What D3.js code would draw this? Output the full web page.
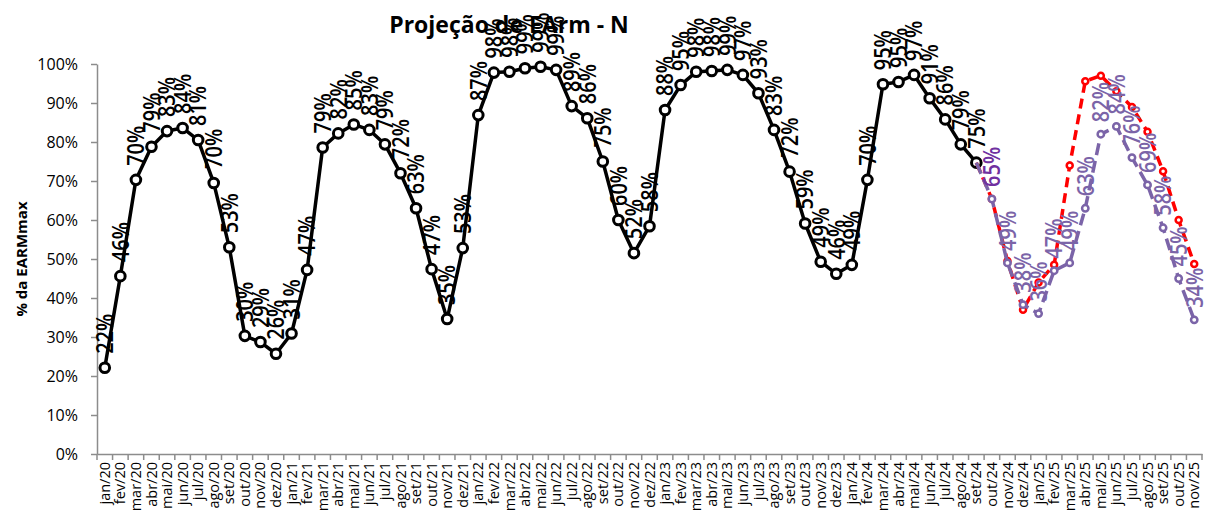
<!DOCTYPE html>
<html>
<head>
<meta charset="utf-8">
<script src="https://cdn.jsdelivr.net/npm/d3@7"></script>
<style>
  body { margin: 0; background: #fff; }
  svg { display: block; font-family: "Open Sans", "Noto Sans", sans-serif; }
</style>
</head>
<body>
<svg id="chart" width="1206" height="520"></svg>
<script>
// month labels jan/20 .. nov/25
const monthNames = ["jan", "fev", "mar", "abr", "mai", "jun", "jul", "ago", "set", "out", "nov", "dez"];
const years = ["20", "21", "22", "23", "24", "25"];
const months = [];
years.forEach(yy => monthNames.forEach(m => months.push(m + "/" + yy)));
months.splice(71); // ends at nov/25

// verified history (jan/20 .. set/24)
const histStart = "jan/20";
const histValues = [
  22.1, 45.6, 70.3, 78.8, 82.8, 83.6, 80.5, 69.5, 53.0, 30.3, 28.7, 25.7,
  30.9, 47.2, 78.6, 82.2, 84.5, 83.1, 79.4, 72.0, 63.0, 47.4, 34.6, 52.8,
  86.9, 97.8, 98.0, 98.9, 99.3, 98.5, 89.2, 86.1, 75.0, 60.0, 51.5, 58.4,
  88.2, 94.6, 98.0, 98.2, 98.5, 97.2, 92.5, 83.1, 72.4, 59.1, 49.3, 46.2,
  48.5, 70.3, 94.8, 95.4, 97.2, 91.2, 85.8, 79.4, 74.7
];

// projection (set/24 .. nov/25)
const projStart = "set/24";
const projValues = [74.7, 65.4, 49.0, 38.3, 36.0, 47.0, 49.0, 63.0, 82.0, 84.0, 76.0, 69.0, 58.0, 45.0, 34.4];

// other scenario (set/24 .. nov/25)
const altStart = "set/24";
const altValues = [74.7, 65.4, 49.5, 37.0, 44.0, 48.5, 74.0, 95.6, 97.0, 93.0, 89.0, 82.6, 72.5, 60.0, 48.7];

const yTicks = [0, 10, 20, 30, 40, 50, 60, 70, 80, 90, 100];

const svg = d3.select("#chart");
const plotLeft = 97, plotRight = 1202, plotTop = 64, plotBottom = 454;

const x = d3.scaleBand().domain(months).range([plotLeft, plotRight]).padding(0);
const y = d3.scaleLinear().domain([0, 100]).range([plotBottom, plotTop]);
const cx = m => x(m) + x.bandwidth() / 2;

function toPoints(start, vals) {
  const i0 = months.indexOf(start);
  return vals.map((v, i) => ({ m: months[i0 + i], v: v }));
}
const hist = toPoints(histStart, histValues);
const proj = toPoints(projStart, projValues);
const alt = toPoints(altStart, altValues);

const axisColor = "#8c8c8c";
const font = "'Open Sans', 'Noto Sans', sans-serif";

// y axis
const yAxis = svg.append("g")
  .attr("transform", `translate(${plotLeft},0)`)
  .call(d3.axisLeft(y).tickValues(yTicks).tickFormat(d => d + "%").tickSize(6).tickSizeOuter(0));
yAxis.select(".domain").attr("stroke", axisColor).attr("stroke-width", 1.5);
yAxis.selectAll(".tick line").attr("stroke", axisColor).attr("stroke-width", 1.5);
yAxis.selectAll(".tick text")
  .attr("font-family", font)
  .attr("font-size", 16).attr("fill", "#000").attr("x", -19);

// x axis
const xAxis = svg.append("g")
  .attr("transform", `translate(0,${plotBottom})`)
  .call(d3.axisBottom(x).tickSize(0).tickSizeOuter(0));
xAxis.select(".domain").attr("stroke", axisColor).attr("stroke-width", 1.5);
xAxis.selectAll(".tick text")
  .attr("font-family", font)
  .attr("font-size", 14.5).attr("fill", "#000")
  .attr("text-anchor", "end")
  .attr("transform", "translate(0,8) rotate(-90)")
  .attr("x", 0).attr("y", 0).attr("dy", "0.35em");
// ticks at the category boundaries
xAxis.selectAll(".bound")
  .data(d3.range(months.length + 1))
  .join("line")
  .attr("class", "bound")
  .attr("x1", i => plotLeft + i * x.bandwidth())
  .attr("x2", i => plotLeft + i * x.bandwidth())
  .attr("y1", 0).attr("y2", 6)
  .attr("stroke", axisColor).attr("stroke-width", 1.5);

const line = d3.line().x(d => cx(d.m)).y(d => y(d.v));

// black history
svg.append("path").datum(hist)
  .attr("d", line).attr("fill", "none")
  .attr("stroke", "#000").attr("stroke-width", 3.5).attr("stroke-linejoin", "round");
svg.append("g").selectAll("circle").data(hist).join("circle")
  .attr("cx", d => cx(d.m)).attr("cy", d => y(d.v)).attr("r", 4.8)
  .attr("fill", "#fff").attr("stroke", "#000").attr("stroke-width", 3);

// red scenario
svg.append("path").datum(alt)
  .attr("d", line).attr("fill", "none")
  .attr("stroke", "#ff0000").attr("stroke-width", 3.5).attr("stroke-dasharray", "10,6");
svg.append("g").selectAll("circle").data(alt.slice(1)).join("circle")
  .attr("cx", d => cx(d.m)).attr("cy", d => y(d.v)).attr("r", 3)
  .attr("fill", "#fff").attr("stroke", "#ff0000").attr("stroke-width", 2.5);

// purple projection
const purple = "#7b64a8";
svg.append("path").datum(proj)
  .attr("d", line).attr("fill", "none")
  .attr("stroke", purple).attr("stroke-width", 3.5).attr("stroke-dasharray", "12,6");
svg.append("g").selectAll("circle").data(proj.slice(1)).join("circle")
  .attr("cx", d => cx(d.m)).attr("cy", d => y(d.v)).attr("r", 3.2)
  .attr("fill", "#fff").attr("stroke", purple).attr("stroke-width", 2.5);

// data labels
svg.append("g").selectAll("text").data(hist).join("text")
  .attr("transform", d => `translate(${cx(d.m)},${y(d.v) - 14}) rotate(-90) scale(1,1.15)`)
  .attr("dy", "0.36em")
  .attr("font-family", font)
  .attr("font-size", 20).attr("font-weight", 600)
  .attr("fill", "#000")
  .text(d => Math.round(d.v) + "%");

svg.append("g").selectAll("text").data(proj.slice(1)).join("text")
  .attr("transform", d => `translate(${cx(d.m)},${y(d.v) - 12}) rotate(-90) scale(1,1.15)`)
  .attr("dy", "0.36em")
  .attr("font-family", font)
  .attr("font-size", 20).attr("font-weight", 600)
  .attr("fill", (d, i) => i === 0 ? "#7030a0" : purple)
  .text(d => Math.round(d.v) + "%");

// titles
svg.append("text")
  .attr("x", 509).attr("y", 33)
  .attr("text-anchor", "middle")
  .attr("font-family", font)
  .attr("font-size", 23).attr("font-weight", "bold")
  .text("Projeção de EArm - N");

svg.append("text")
  .attr("transform", `translate(22,${(plotTop + plotBottom) / 2}) rotate(-90)`)
  .attr("text-anchor", "middle")
  .attr("dy", "0.35em")
  .attr("font-family", font)
  .attr("font-size", 15).attr("font-weight", "bold")
  .text("% da EARMmax");
</script>
</body>
</html>
